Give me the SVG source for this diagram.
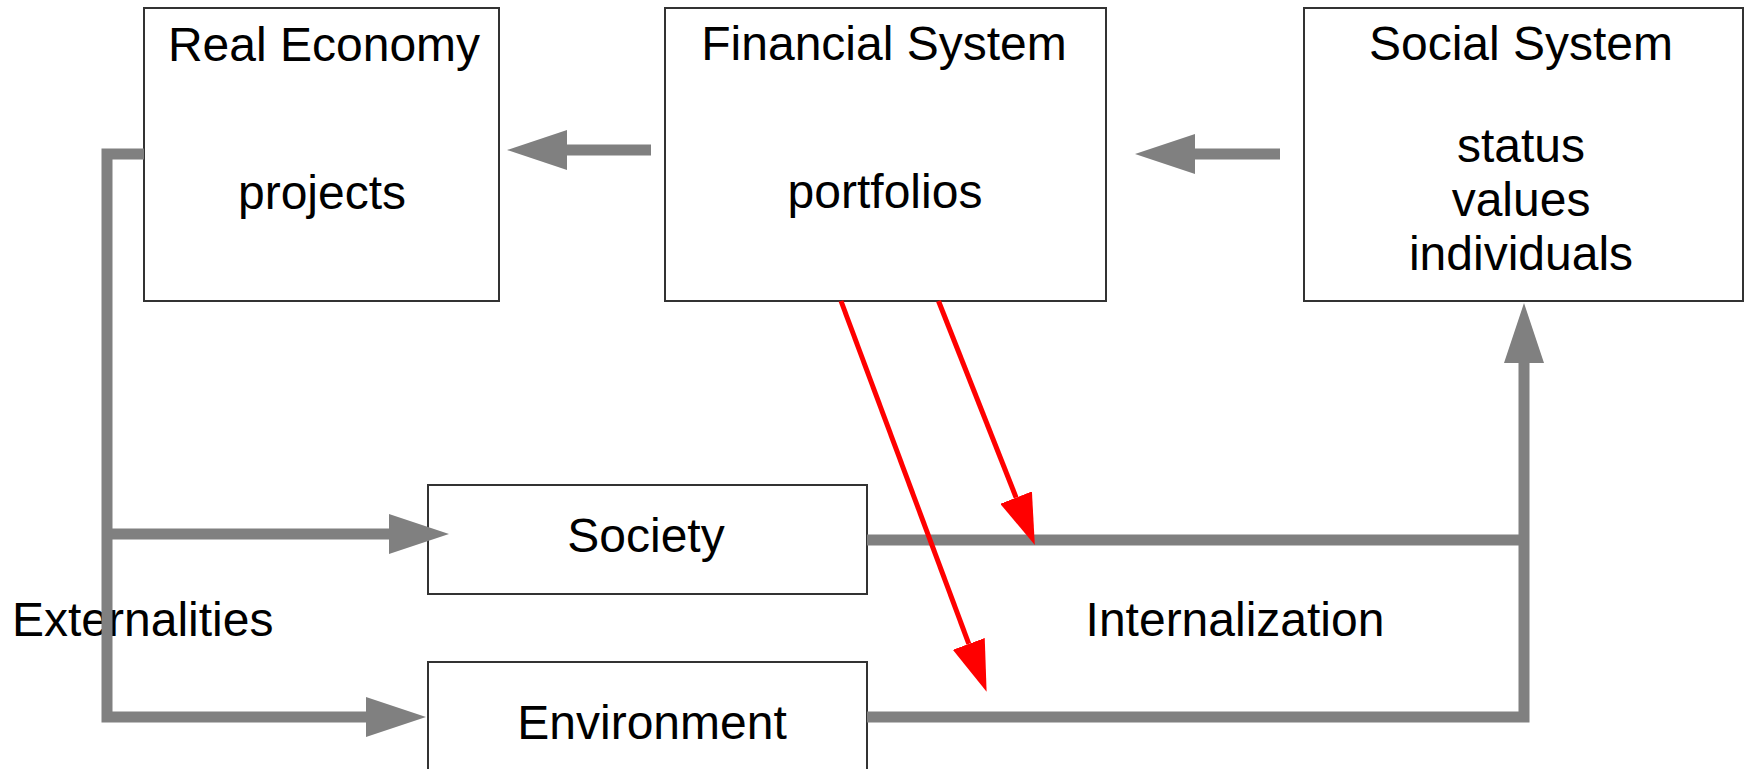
<svg xmlns="http://www.w3.org/2000/svg" width="1744" height="769" viewBox="0 0 1744 769">
  <defs>
    <style>
      .box { fill: #ffffff; stroke: #333333; stroke-width: 2; }
      .lbl { font-family: "Liberation Sans", Arial, sans-serif; font-size: 48px; fill: #000000; text-anchor: middle; }
      .flow { fill: none; stroke: #808080; stroke-width: 11; stroke-linejoin: miter; }
      .red { fill: none; stroke: #ff0000; stroke-width: 5; }
    </style>
    <!-- heads start where the shaft stops and extend forward to the tip -->
    <marker id="grayHead" markerUnits="userSpaceOnUse" viewBox="0 0 60 40" refX="0" refY="20" markerWidth="60" markerHeight="40" orient="auto">
      <path d="M0,0 L60,20 L0,40 Z" fill="#808080"/>
    </marker>
    <marker id="redHead" markerUnits="userSpaceOnUse" viewBox="0 0 51 34" refX="0" refY="17" markerWidth="51" markerHeight="34" orient="auto">
      <path d="M0,0 L51,17 L0,34 Z" fill="#ff0000"/>
    </marker>
  </defs>

  <rect width="1744" height="769" fill="#ffffff"/>

  <g id="real-economy">
    <rect class="box" x="144" y="8" width="355" height="293"/>
    <text class="lbl" x="324" y="61">Real Economy</text>
    <text class="lbl" x="322" y="209">projects</text>
  </g>

  <g id="financial-system">
    <rect class="box" x="665" y="8" width="441" height="293"/>
    <text class="lbl" x="884" y="60">Financial System</text>
    <text class="lbl" x="885" y="208">portfolios</text>
  </g>

  <g id="social-system">
    <rect class="box" x="1304" y="8" width="439" height="293"/>
    <text class="lbl" x="1521" y="60">Social System</text>
    <text class="lbl" x="1521" y="162">status</text>
    <text class="lbl" x="1521" y="216">values</text>
    <text class="lbl" x="1521" y="270">individuals</text>
  </g>

  <g id="society">
    <rect class="box" x="428" y="485" width="439" height="109"/>
    <text class="lbl" x="646" y="552">Society</text>
  </g>

  <g id="environment">
    <rect class="box" x="428" y="662" width="439" height="120"/>
    <text class="lbl" x="652" y="739">Environment</text>
  </g>

  <g id="labels">
    <text class="lbl" x="12" y="636" style="text-anchor:start">Externalities</text>
    <text class="lbl" x="1235" y="636">Internalization</text>
  </g>

  <!-- connectors sit on top of the boxes so heads may overlap their edges -->
  <g id="connectors">
    <!-- feedback loop between the three systems -->
    <path class="flow" d="M651,150 H567" marker-end="url(#grayHead)"/>
    <path class="flow" d="M1280,154 H1195" marker-end="url(#grayHead)"/>
    <!-- externalities out of the real economy -->
    <path class="flow" d="M144,154 H107 V717 H366" marker-end="url(#grayHead)"/>
    <path class="flow" d="M107,534 H389" marker-end="url(#grayHead)"/>
    <!-- internalization back to the social system -->
    <path class="flow" d="M867,540 H1524"/>
    <path class="flow" d="M867,717 H1524 V363" marker-end="url(#grayHead)"/>
    <!-- financial influence -->
    <path class="red" d="M841,301 L968.8,643.9" marker-end="url(#redHead)"/>
    <path class="red" d="M938.5,301 L1016.1,497.6" marker-end="url(#redHead)"/>
  </g>
</svg>
